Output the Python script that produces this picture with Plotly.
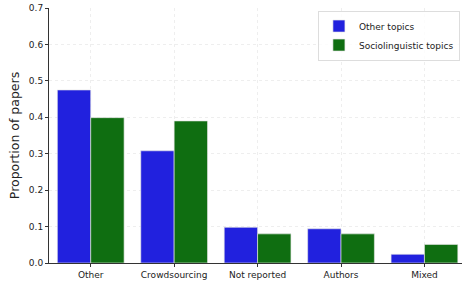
import plotly.graph_objects as go

categories = ["Other", "Crowdsourcing", "Not reported", "Authors", "Mixed"]
other_topics = [0.475, 0.308, 0.098, 0.094, 0.024]
socio_topics = [0.399, 0.390, 0.080, 0.080, 0.051]
y_ticks = [0.0, 0.1, 0.2, 0.3, 0.4, 0.5, 0.6, 0.7]

fig = go.Figure()
fig.add_trace(go.Bar(x=categories, y=other_topics, name="Other topics",
                     marker=dict(color="#2121DE", line=dict(color="rgba(230,230,230,0.8)", width=0.8))))
fig.add_trace(go.Bar(x=categories, y=socio_topics, name="Sociolinguistic topics",
                     marker=dict(color="#0F6E11", line=dict(color="rgba(230,230,230,0.8)", width=0.8))))

fig.update_layout(
    width=463, height=284,
    margin=dict(l=49, r=1, t=8, b=21, autoexpand=False),
    barmode="group", bargap=0.2, bargroupgap=0,
    plot_bgcolor="white", paper_bgcolor="white",
    font=dict(family="DejaVu Sans", size=9, color="#222"),
    legend=dict(x=0.995, y=0.99, xanchor="right", yanchor="top",
                bgcolor="rgba(255,255,255,0.8)", bordercolor="#ddd", borderwidth=1,
                font=dict(size=9), itemwidth=30, tracegroupgap=0),
    xaxis=dict(range=[-0.5, 4.45], showline=True, linecolor="#333", linewidth=1,
               ticks="outside", ticklen=3, tickcolor="#333",
               showgrid=True, gridcolor="#eee", griddash="dot", gridwidth=0.6),
    yaxis=dict(range=[0, 0.7], tickvals=y_ticks, tickformat=".1f",
               showline=True, linecolor="#333", linewidth=1,
               ticks="outside", ticklen=3, tickcolor="#333",
               showgrid=True, gridcolor="#eee", griddash="dot", gridwidth=0.6,
               zeroline=False,
               title=dict(text="Proportion of papers", font=dict(size=12.5), standoff=6)),
)

fig.write_html("out.html", config={"displayModeBar": False},
               post_script="document.body.style.margin='0';")
